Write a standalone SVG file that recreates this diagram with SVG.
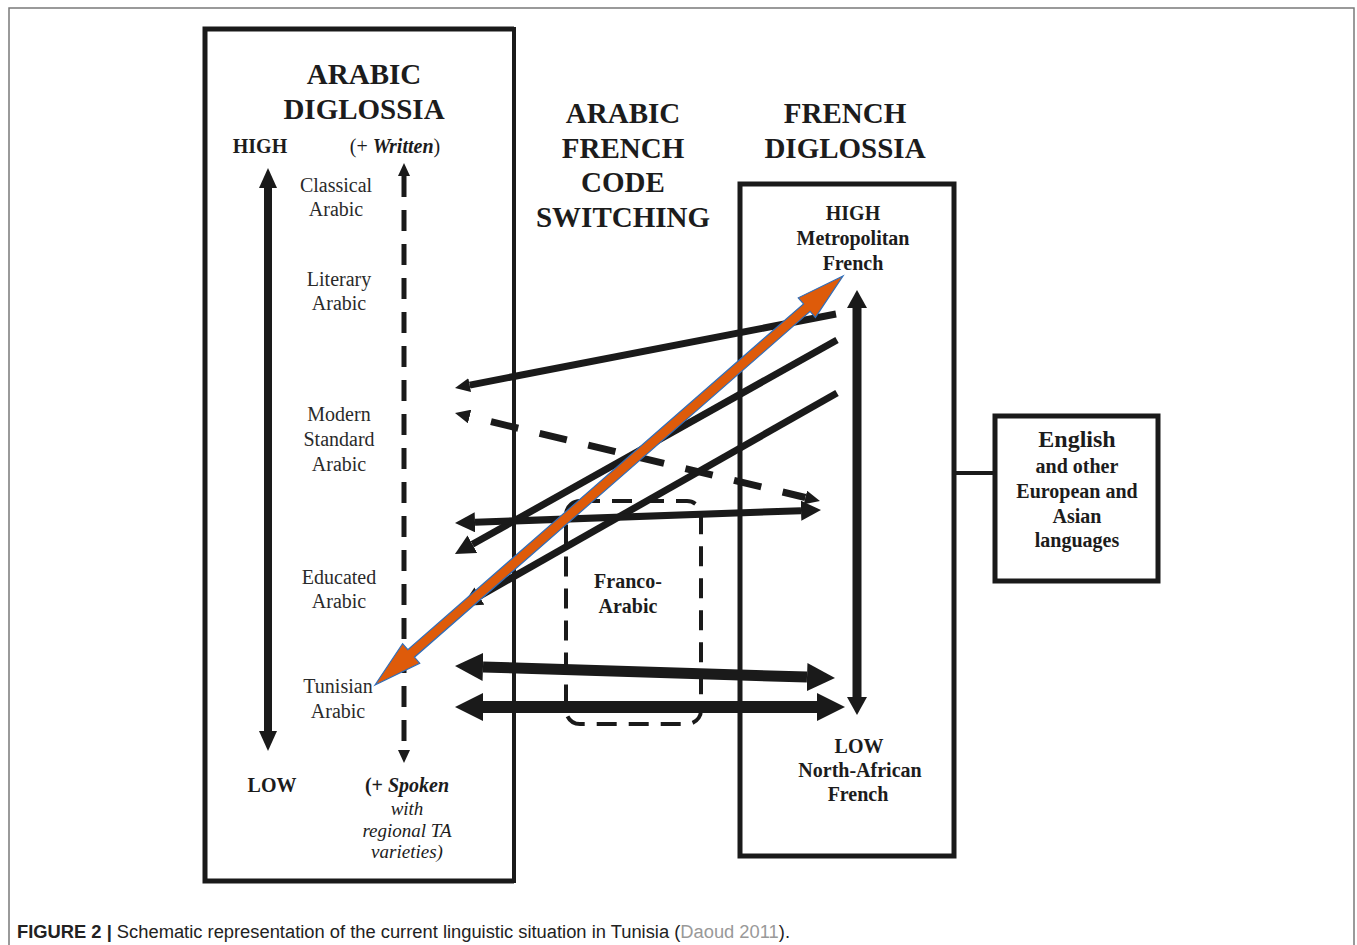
<svg xmlns="http://www.w3.org/2000/svg" width="1357" height="945" viewBox="0 0 1357 945">
<style>
.t{font-family:"Liberation Serif","Times New Roman",serif;fill:#1c1c1c;text-anchor:middle}
.ti{font-size:29px;font-weight:bold}
.lb{font-size:20px;font-weight:bold}
.lr{font-size:20px;fill:#2a2a2a}
.it{font-size:19px;font-style:italic}
.box{fill:none;stroke:#1a1a1a;stroke-width:5}
.ln{fill:none;stroke:#1a1a1a}
.hd{fill:#1a1a1a;stroke:none}
</style>
<defs>
<marker id="hS" markerUnits="userSpaceOnUse" viewBox="0 0 15 14" markerWidth="15" markerHeight="14" refX="0" refY="7" orient="auto-start-reverse"><path class="hd" d="M0,0 L15,7 L0,14 Z"/></marker>
<marker id="hM" markerUnits="userSpaceOnUse" viewBox="0 0 20 20" markerWidth="20" markerHeight="20" refX="0" refY="10" orient="auto-start-reverse"><path class="hd" d="M0,0 L20,10 L0,20 Z"/></marker>
<marker id="hL" markerUnits="userSpaceOnUse" viewBox="0 0 28 28" markerWidth="28" markerHeight="28" refX="0" refY="14" orient="auto-start-reverse"><path class="hd" d="M0,0 L28,14 L0,28 Z"/></marker>
<marker id="hV" markerUnits="userSpaceOnUse" viewBox="0 0 20 18" markerWidth="20" markerHeight="18" refX="0" refY="9" orient="auto-start-reverse"><path class="hd" d="M0,0 L20,9 L0,18 Z"/></marker>
<marker id="hF" markerUnits="userSpaceOnUse" viewBox="0 0 18 20" markerWidth="18" markerHeight="20" refX="0" refY="10" orient="auto-start-reverse"><path class="hd" d="M0,0 L18,10 L0,20 Z"/></marker>
<marker id="hD" markerUnits="userSpaceOnUse" viewBox="0 0 13 12" markerWidth="13" markerHeight="12" refX="0" refY="6" orient="auto-start-reverse"><path class="hd" d="M0,0 L13,6 L0,12 Z"/></marker>
</defs>
<rect width="1357" height="945" fill="#ffffff"/>
<path d="M9,945 V8 H1354 V945" fill="none" stroke="#7a7a7a" stroke-width="1.5"/>

<g id="arabic-diglossia">
<path class="box" d="M514,29 H205 V881 H514"/>
<path class="ln" d="M514,27 V883" stroke-width="4"/>
<text class="t ti" x="364" y="84">ARABIC</text>
<text class="t ti" x="364" y="119">DIGLOSSIA</text>
<text class="t lb" x="260" y="153">HIGH</text>
<text class="t" x="395" y="153" style="font-size:20px">(+ <tspan font-weight="bold" font-style="italic">Written</tspan>)</text>
<text class="t lr" x="336" y="192">Classical</text>
<text class="t lr" x="336" y="216">Arabic</text>
<text class="t lr" x="339" y="286">Literary</text>
<text class="t lr" x="339" y="310">Arabic</text>
<text class="t lr" x="339" y="421">Modern</text>
<text class="t lr" x="339" y="446">Standard</text>
<text class="t lr" x="339" y="471">Arabic</text>
<text class="t lr" x="339" y="584">Educated</text>
<text class="t lr" x="339" y="608">Arabic</text>
<text class="t lr" x="338" y="693">Tunisian</text>
<text class="t lr" x="338" y="718">Arabic</text>
<text class="t lb" x="272" y="792">LOW</text>
<text class="t lb" x="407" y="792">(+ <tspan font-style="italic">Spoken</tspan></text>
<text class="t it" x="407" y="815">with</text>
<text class="t it" x="407" y="837">regional TA</text>
<text class="t it" x="407" y="858">varieties)</text>
<line class="ln" x1="268" y1="188" x2="268" y2="731" stroke-width="8" marker-start="url(#hV)" marker-end="url(#hV)"/>
<line class="ln" x1="404" y1="176" x2="404" y2="750" stroke-width="5" stroke-dasharray="21 13" marker-start="url(#hD)" marker-end="url(#hD)"/>
</g>

<g id="code-switching">
<text class="t ti" x="623" y="123">ARABIC</text>
<text class="t ti" x="623" y="158">FRENCH</text>
<text class="t ti" x="623" y="192">CODE</text>
<text class="t ti" x="623" y="227">SWITCHING</text>
</g>

<g id="franco-arabic">
<rect x="566" y="501" width="135" height="223" rx="14" fill="none" stroke="#1a1a1a" stroke-width="4" stroke-dasharray="20 12"/>
<text class="t lb" x="628" y="588">Franco-</text>
<text class="t lb" x="628" y="613">Arabic</text>
</g>

<g id="french-diglossia">
<text class="t ti" x="845" y="123">FRENCH</text>
<text class="t ti" x="845" y="158">DIGLOSSIA</text>
<rect class="box" x="740" y="184" width="214" height="672"/>
<text class="t lb" x="853" y="220">HIGH</text>
<text class="t lb" x="853" y="245">Metropolitan</text>
<text class="t lb" x="853" y="270">French</text>
<text class="t lb" x="859" y="753">LOW</text>
<text class="t lb" x="860" y="777">North-African</text>
<text class="t lb" x="858" y="801">French</text>
<line class="ln" x1="857" y1="308" x2="857" y2="697" stroke-width="9" marker-start="url(#hF)" marker-end="url(#hF)"/>
</g>

<g id="english">
<rect class="box" x="995" y="416" width="163" height="165"/>
<text class="t" x="1077" y="447" style="font-size:24px;font-weight:bold">English</text>
<text class="t lb" x="1077" y="473">and other</text>
<text class="t lb" x="1077" y="498">European and</text>
<text class="t lb" x="1077" y="523">Asian</text>
<text class="t lb" x="1077" y="547">languages</text>
</g>

<g id="connectors">
<line class="ln" x1="955" y1="473" x2="995" y2="473" stroke-width="4"/>
<line class="ln" x1="836" y1="314" x2="469.7" y2="385.1" stroke-width="7" marker-end="url(#hS)"/>
<line class="ln" x1="837" y1="340" x2="472.4" y2="544.2" stroke-width="7" marker-end="url(#hM)"/>
<line class="ln" x1="837" y1="393" x2="479.4" y2="596.1" stroke-width="7" marker-end="url(#hM)"/>
<line class="ln" x1="469.6" y1="416.5" x2="805.4" y2="497.5" stroke-width="7" stroke-dasharray="28 22" stroke-dashoffset="28" marker-start="url(#hS)" marker-end="url(#hS)"/>
<line class="ln" x1="475" y1="522.3" x2="801" y2="510.7" stroke-width="7" marker-start="url(#hM)" marker-end="url(#hM)"/>
<line class="ln" x1="483" y1="666.9" x2="807" y2="677.1" stroke-width="11" marker-start="url(#hL)" marker-end="url(#hL)"/>
<line class="ln" x1="483" y1="707" x2="817" y2="707" stroke-width="12" marker-start="url(#hL)" marker-end="url(#hL)"/>
<g transform="translate(375,685) rotate(-41.15)">
<polygon points="0,0 48,-13 48,-5 573.5,-5 573.5,-13 621.5,0 573.5,13 573.5,5 48,5 48,13" fill="#DE5B0A" stroke="#2F6EBA" stroke-width="1.2" stroke-linejoin="miter"/>
</g>
</g>

<text x="17" y="938" textLength="773" lengthAdjust="spacingAndGlyphs" style="font-family:'Liberation Sans',Arial,sans-serif;font-size:18px;fill:#222"><tspan font-weight="bold">FIGURE 2 |</tspan> Schematic representation of the current linguistic situation in Tunisia (<tspan fill="#999999">Daoud 2011</tspan>).</text>
</svg>
